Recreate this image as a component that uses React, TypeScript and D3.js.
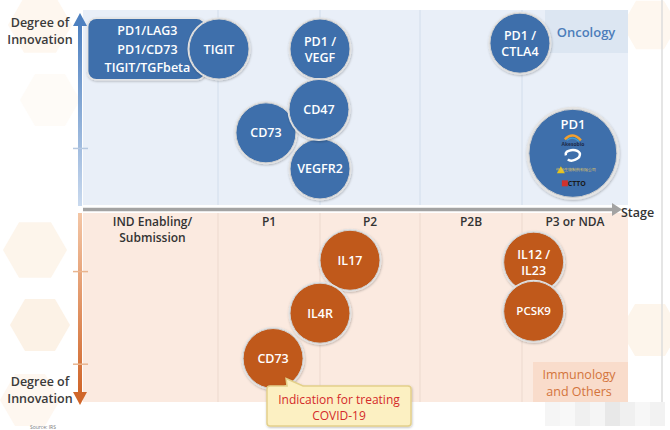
import React from "react";
import * as d3 from "d3";

// ---- data ----
const stages = ["IND Enabling/|Submission", "P1", "P2", "P2B", "P3 or NDA"];
const stageBounds = [0, 1, 2, 3, 4, 5];

const oncologyTargets = ["TIGIT", "PD1 /|VEGF", "CD73", "VEGFR2", "CD47", "PD1 /|CTLA4"];
const oncologyStage = [1.01, 2.0, 1.47, 2.0, 1.99, 3.98];
const oncologyInnovation = [8.0, 8.0, 3.7, 1.85, 4.9, 8.3];

const pd1Stage = 4.48;
const pd1Innovation = 2.65;

const bispecificTargets = ["PD1/LAG3", "PD1/CD73", "TIGIT/TGFbeta"];
const bispecificStageRange = [0.04, 0.9];
const bispecificInnovation = 8.0;

const immunoTargets = ["IL17", "IL4R", "CD73", "IL12 /|IL23", "PCSK9"];
const immunoStage = [2.3, 2.0, 1.54, 4.11, 4.11];
const immunoInnovation = [2.5, 5.3, 7.7, 2.6, 5.2];

const topTicks = [2.9];
const bottomTicks = [3.1, 8.0];

const W = 670, H = 430;
const BLUE = "#3e6fab";
const ORANGE = "#c0591b";

export default function App() {
  const x = d3.scaleLinear().domain(stageBounds).range([83, 218, 320, 420, 522, 628]);
  const yTop = d3.scaleLinear().domain([0, 10]).range([205, 10]);
  const yBot = d3.scaleLinear().domain([0, 10]).range([213, 402]);
  const r = 30;
  const font = "'Open Sans', 'Noto Sans', sans-serif";

  const bubbleText = (label: string, cx: number, cy: number, size = 12.5) => {
    const lines = label.split("|");
    const lh = 16;
    return lines.map((l, i) => (
      <text key={i} x={cx} y={cy + (i - (lines.length - 1) / 2) * lh + size * 0.36}
        textAnchor="middle" fill="#fff" fontSize={size} fontWeight={600} fontFamily={font}>{l}</text>
    ));
  };

  const bubble = (label: string, cx: number, cy: number, fill: string, key: string, size = 12.5) => (
    <g key={key}>
      <circle cx={cx} cy={cy} r={r + 1.5} fill="#e4e4e4" filter="url(#sh)" />
      <circle cx={cx} cy={cy} r={r} fill={fill} stroke="#d3d3d3" strokeWidth={1} />
      {bubbleText(label, cx, cy, size)}
    </g>
  );

  const hex = (cx: number, cy: number, s: number, fill: string, key: string) => {
    const pts = d3.range(6).map(i => {
      const a = (Math.PI / 3) * i;
      return [cx + s * Math.cos(a), cy + s * Math.sin(a)].join(",");
    }).join(" ");
    return <polygon key={key} points={pts} fill={fill} />;
  };

  const bx0 = x(bispecificStageRange[0]);
  const bx1 = x(bispecificStageRange[1]);
  const by = yTop(bispecificInnovation);

  const pdx = x(pd1Stage), pdy = yTop(pd1Innovation);

  const cd73b = { x: x(immunoStage[2]), y: yBot(immunoInnovation[2]) };

  const mosaic = [0.9, 0.93, 0.86, 0.9, 0.8, 0.86, 0.92, 0.88];

  return (
    <svg width={W} height={H} style={{ position: "absolute", left: 0, top: 0, background: "#fff" }}>
      <defs>
        <filter id="sh" x="-30%" y="-30%" width="160%" height="160%">
          <feDropShadow dx="0.5" dy="1" stdDeviation="1.2" floodColor="#000" floodOpacity="0.25" />
        </filter>
        <linearGradient id="gUp" x1="0" y1="1" x2="0" y2="0">
          <stop offset="0" stopColor="#c9d9ee" />
          <stop offset="1" stopColor="#4d80c0" />
        </linearGradient>
        <linearGradient id="gDown" x1="0" y1="0" x2="0" y2="1">
          <stop offset="0" stopColor="#f3c6a6" />
          <stop offset="1" stopColor="#d0662a" />
        </linearGradient>
      </defs>

      {/* faint hexagon background */}
      {hex(40, 25, 32, "#fef7ef", "h1")}
      {hex(50, 100, 30, "#fefbf7", "h2")}
      {hex(35, 250, 32, "#fdf5eb", "h3")}
      {hex(40, 325, 30, "#fcf2e6", "h4")}
      {hex(30, 400, 30, "#fef7f0", "h5")}
      {hex(650, 330, 30, "#fdf5eb", "h6")}
      {hex(650, 25, 28, "#fef7ef", "h7")}
      <line x1={662} x2={662} y1={0} y2={402} stroke="#dcdcdc" strokeWidth={1.5} />

      {/* panels */}
      <rect x={83} y={10} width={545} height={195} fill="#e9eff8" />
      <rect x={83} y={213} width={545} height={189} fill="#fbeae0" />
      <rect x={545} y={10} width={83} height={43} fill="#dce6f2" />
      <rect x={533} y={362} width={95} height={40} fill="#f9dccb" />

      {/* stage gridlines */}
      {stageBounds.slice(1, 5).map(b => (
        <g key={b}>
          <line x1={x(b)} x2={x(b)} y1={10} y2={205} stroke="#d2ddeb" strokeWidth={1} />
          <line x1={x(b)} x2={x(b)} y1={213} y2={402} stroke="#ecd9ce" strokeWidth={1} />
        </g>
      ))}

      {/* stage labels */}
      {stages.map((s, i) => {
        const lines = s.split("|");
        const cx = x(i + 0.5);
        return lines.map((l, j) => (
          <text key={s + j} x={i === 0 ? cx + 2 : cx} y={226 + j * 16} textAnchor="middle"
            fontSize={12} fontWeight={600} fill="#333" fontFamily={font}>{l}</text>
        ));
      })}

      {/* horizontal axis */}
      <line x1={83} x2={614} y1={209.5} y2={209.5} stroke="#a3a3a3" strokeWidth={3.5} />
      <path d="M612,203 L622,209.5 L612,216 Z" fill="#a3a3a3" />
      <text x={621} y={217} fontSize={12.5} fontWeight={600} fill="#333" fontFamily={font}>Stage</text>

      {/* vertical axes */}
      <rect x={78} y={24} width={4} height={182} fill="url(#gUp)" />
      <path d="M73,26 L80,13 L87,26 Z" fill="#4d80c0" />
      {topTicks.map(t => (
        <line key={t} x1={73} x2={88} y1={yTop(t)} y2={yTop(t)} stroke="#b6c8e0" strokeWidth={1.5} />
      ))}
      <rect x={78} y={213} width={4} height={180} fill="url(#gDown)" />
      <path d="M73,392 L80,405 L87,392 Z" fill="#d0662a" />
      {bottomTicks.map(t => (
        <line key={t} x1={73} x2={88} y1={yBot(t)} y2={yBot(t)} stroke="#e9b58f" strokeWidth={1.5} />
      ))}

      {[["Degree of", 27], ["Innovation", 44]].map(([t, yy]) => (
        <text key={"t" + t} x={40} y={yy as number} textAnchor="middle" fontSize={12.5} fontWeight={600}
          fill="#3a3a3a" fontFamily={font}>{t}</text>
      ))}
      {[["Degree of", 386], ["Innovation", 403]].map(([t, yy]) => (
        <text key={"b" + t} x={40} y={yy as number} textAnchor="middle" fontSize={12.5} fontWeight={600}
          fill="#3a3a3a" fontFamily={font}>{t}</text>
      ))}

      {/* panel labels */}
      <text x={586} y={37} textAnchor="middle" fontSize={13} fontWeight={600} fill="#4c7dba" fontFamily={font}>Oncology</text>
      <text x={579} y={379} textAnchor="middle" fontSize={12.5} fontWeight={500} fill="#d3743c" fontFamily={font}>Immunology</text>
      <text x={579} y={396} textAnchor="middle" fontSize={12.5} fontWeight={500} fill="#d3743c" fontFamily={font}>and Others</text>

      {/* bispecific box */}
      <g>
        <rect x={bx0 - 1.5} y={by - 31.5} width={bx1 - bx0 + 3} height={63} rx={9} fill="#e4e4e4" filter="url(#sh)" />
        <rect x={bx0} y={by - 30} width={bx1 - bx0} height={60} rx={8} fill={BLUE} />
        {bispecificTargets.map((t, i) => (
          <text key={t} x={(bx0 + bx1) / 2 + 1} y={by + (i - 1) * 18.5 + 4.5} textAnchor="middle"
            fill="#fff" fontSize={12.5} fontWeight={600} fontFamily={font}>{t}</text>
        ))}
      </g>

      {/* oncology bubbles */}
      {oncologyTargets.map((t, i) => bubble(t, x(oncologyStage[i]), yTop(oncologyInnovation[i]), BLUE, "o" + i))}

      {/* PD1 big bubble with company logos */}
      <g>
        <circle cx={pdx} cy={pdy} r={46.5} fill="#e4e4e4" filter="url(#sh)" />
        <circle cx={pdx} cy={pdy} r={44} fill={BLUE} stroke="#cfcfcf" strokeWidth={1} />
        <text x={pdx} y={pdy - 24} textAnchor="middle" fill="#fff" fontSize={13} fontWeight={600} fontFamily={font}>PD1</text>
        <path d={`M${pdx - 8},${pdy - 14} Q${pdx},${pdy - 22} ${pdx + 8},${pdy - 13}`} stroke="#f0a030" strokeWidth={2.5} fill="none" />
        <path d={`M${pdx - 6},${pdy - 13} Q${pdx},${pdy - 18} ${pdx + 6},${pdy - 12}`} stroke="#3aa0d8" strokeWidth={1.2} fill="none" />
        <text x={pdx} y={pdy - 7} textAnchor="middle" fill="#1c2a4a" fontSize={5} fontWeight={700} fontFamily={font}>Akesobio</text>
        <path d={`M${pdx - 7},${pdy + 2} C${pdx - 9},${pdy - 4} ${pdx + 4},${pdy - 5} ${pdx + 7},${pdy} C${pdx + 8},${pdy + 6} ${pdx - 2},${pdy + 9} ${pdx - 5},${pdy + 6}`}
          stroke="#fff" strokeWidth={2.5} fill="none" />
        <path d={`M${pdx - 16},${pdy + 20} L${pdx - 12},${pdy + 13} L${pdx - 8},${pdy + 20} Z`} fill="#e6c21a" />
        <text x={pdx + 3} y={pdy + 18} textAnchor="middle" fill="#e0c860" fontSize={4} fontFamily={font}>中国生物制药有限公司</text>
        <rect x={pdx - 11} y={pdy + 27} width={6} height={6} fill="#d0312d" />
        <text x={pdx + 4} y={pdy + 33} textAnchor="middle" fill="#1a1a1a" fontSize={7} fontWeight={700} fontFamily={font}>CTTO</text>
      </g>

      {/* immunology bubbles */}
      {immunoTargets.map((t, i) => bubble(t, x(immunoStage[i]), yBot(immunoInnovation[i]), ORANGE, "i" + i, t === "PCSK9" ? 11.5 : 12.5))}

      {/* callout */}
      <g filter="url(#sh)">
        <path d={`M270,386 L${cd73b.x + 14},386 L${cd73b.x + 13},${cd73b.y + 20} L${cd73b.x + 30},386 L408,386 Q411,386 411,389 L411,423 Q411,426 408,426 L270,426 Q267,426 267,423 L267,389 Q267,386 270,386 Z`}
          fill="#fcf0c2" stroke="#e3d08a" strokeWidth={1.5} />
      </g>
      <text x={339} y={404} textAnchor="middle" fill="#d42a2a" fontSize={12} fontFamily={font}>Indication for treating</text>
      <text x={339} y={420} textAnchor="middle" fill="#d42a2a" fontSize={12} fontFamily={font}>COVID-19</text>

      {/* source + blurred watermark */}
      <text x={30} y={429} fontSize={5} fill="#777" fontFamily={font}>Source: IRS</text>
      {mosaic.map((g, i) => (
        <rect key={i} x={545 + i * 15} y={402} width={15} height={24}
          fill={d3.interpolateGreys(1 - g)} opacity={0.8} />
      ))}
    </svg>
  );
}
